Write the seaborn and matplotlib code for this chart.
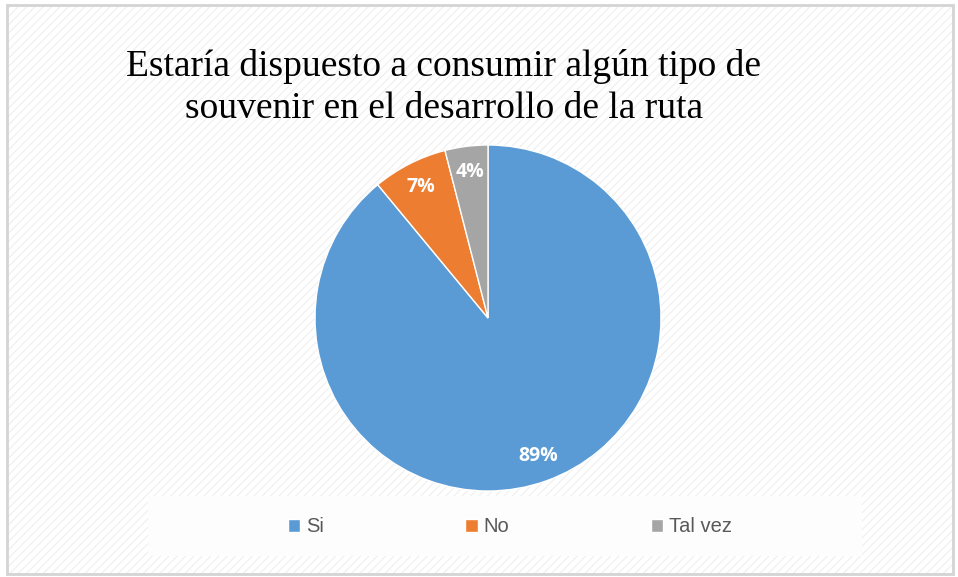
import matplotlib
matplotlib.use("Agg")
import matplotlib.pyplot as plt
from matplotlib.patches import Rectangle
import seaborn as sns

# data
labels = ["Si", "No", "Tal vez"]
values = [89, 7, 4]
colors = ["#5B9BD5", "#ED7D31", "#A5A5A5"]
title_lines = ["Estaría dispuesto a consumir algún tipo de",
               "souvenir en el desarrollo de la ruta"]

sns.set_style("white")
plt.rcParams["font.family"] = ["Liberation Sans", "DejaVu Sans"]

W, H = 958, 577
fig = plt.figure(figsize=(W / 100, H / 100), dpi=100)
fig.patch.set_facecolor("white")

# background with faint diagonal stripes and grey border
bg = fig.add_axes([0, 0, 1, 1])
bg.set_xlim(0, W)
bg.set_ylim(0, H)
bg.axis("off")
bg.add_patch(Rectangle((7, 3), W - 12, H - 8, facecolor="white",
                       edgecolor="#F1F1F1", hatch="////", linewidth=0))
bg.add_patch(Rectangle((7, 3), W - 12, H - 8, facecolor="none",
                       edgecolor="#D4D4D4", linewidth=2))
# legend box
bg.add_patch(Rectangle((148, 21), 714, 60, facecolor="#FDFDFD",
                       edgecolor="none", zorder=2))

bg.text(444, H - 66, title_lines[0], ha="center", va="center",
        fontsize=27, family="Liberation Serif", color="black")
bg.text(444, H - 109, title_lines[1], ha="center", va="center",
        fontsize=27, family="Liberation Serif", color="black")

# pie
cx, cy, r = 488, H - 318, 173
ax = fig.add_axes([(cx - r) / W, (cy - r) / H, 2 * r / W, 2 * r / H])
wedges, _, autotexts = ax.pie(values, colors=colors, startangle=90,
                              counterclock=False, autopct="%d%%",
                              pctdistance=0.85,
                              wedgeprops=dict(edgecolor="white", linewidth=1),
                              textprops=dict(color="white", fontsize=14,
                                             fontweight="bold",
                                             family=["Open Sans", "DejaVu Sans"]))
ax.set_xlim(-1, 1)
ax.set_ylim(-1, 1)
ax.set_aspect("equal")
ax.axis("off")

leg = fig.legend(wedges, labels, loc="center", ncol=3,
                 bbox_to_anchor=(510 / W, 50 / H), frameon=False,
                 prop=dict(family="Liberation Sans", size=14.5),
                 handlelength=0.62, handleheight=0.67,
                 handletextpad=0.3, columnspacing=7.0)
for t in leg.get_texts():
    t.set_color("#595959")

fig.savefig("out.png", dpi=100)
